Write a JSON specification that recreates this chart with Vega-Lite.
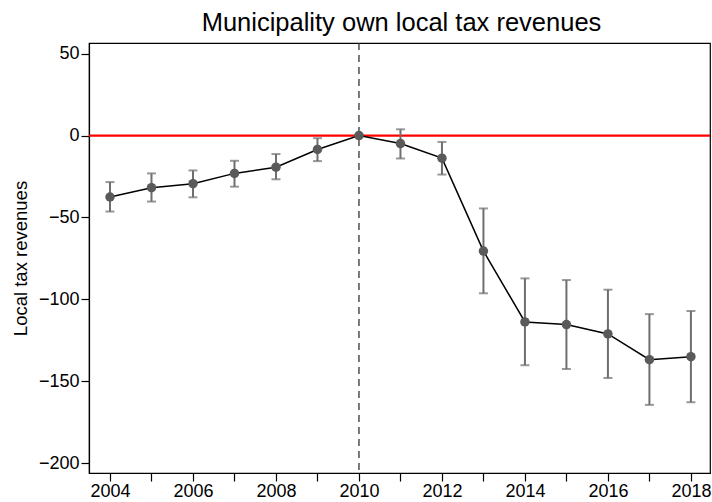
{
  "$schema": "https://vega.github.io/schema/vega-lite/v6.json",
  "width": 621,
  "height": 430,
  "autosize": "none",
  "padding": {"left": 89, "top": 43, "right": 2, "bottom": 29},
  "background": "white",
  "config": {
    "font": "Liberation Sans",
    "view": {"stroke": "black", "strokeWidth": 1.2},
    "axis": {"grid": false, "domainColor": "black", "tickColor": "black", "labelColor": "black", "titleColor": "black", "labelFont": "Liberation Sans", "titleFont": "Liberation Sans", "titleFontWeight": "normal", "labelFontSize": 18, "tickSize": 8, "domainWidth": 1.2, "tickWidth": 1.2}
  },
  "title": {"text": "Municipality own local tax revenues", "fontSize": 25.5, "fontWeight": "normal", "font": "Liberation Sans", "color": "black", "anchor": "middle", "offset": 6, "dx": 2},
  "data": {"values": [
    {"year": 2004, "est": -37.5, "lo": -46.4, "hi": -28.4},
    {"year": 2005, "est": -31.8, "lo": -40.3, "hi": -23.1},
    {"year": 2006, "est": -29.4, "lo": -37.7, "hi": -21.3},
    {"year": 2007, "est": -23.1, "lo": -31.2, "hi": -15.4},
    {"year": 2008, "est": -19.3, "lo": -26.7, "hi": -11.3},
    {"year": 2009, "est": -8.5, "lo": -15.6, "hi": -1.6},
    {"year": 2010, "est": 0, "lo": 0, "hi": 0},
    {"year": 2011, "est": -4.9, "lo": -14.0, "hi": 3.8},
    {"year": 2012, "est": -13.8, "lo": -23.8, "hi": -3.9},
    {"year": 2013, "est": -70.5, "lo": -96.3, "hi": -44.5},
    {"year": 2014, "est": -113.8, "lo": -140.2, "hi": -87.2},
    {"year": 2015, "est": -115.4, "lo": -142.5, "hi": -88.2},
    {"year": 2016, "est": -121.1, "lo": -148.0, "hi": -94.1},
    {"year": 2017, "est": -136.8, "lo": -164.4, "hi": -109.0},
    {"year": 2018, "est": -135.0, "lo": -162.8, "hi": -107.1}
  ]},
  "encoding": {
    "x": {"field": "year", "type": "quantitative", "scale": {"domain": [2003.494, 2018.46], "nice": false, "zero": false},
      "axis": {"title": null, "values": [2004,2005,2006,2007,2008,2009,2010,2011,2012,2013,2014,2015,2016,2017,2018], "format": "d", "labelExpr": "datum.value % 2 == 0 ? datum.label : ''", "labelPadding": 1}}
  },
  "layer": [
    {"data": {"values": [{"z": 0}]}, "mark": {"type": "rule", "color": "#ff0000", "strokeWidth": 2.2}, "encoding": {"x": null, "y": {"field": "z", "type": "quantitative"}}},
    {"data": {"values": [{"t": 2010}]}, "mark": {"type": "rule", "color": "#333333", "strokeWidth": 1.3, "strokeDash": [7, 5]}, "encoding": {"x": {"field": "t", "type": "quantitative"}}},
    {"mark": {"type": "rule", "color": "#6e6e6e", "strokeWidth": 2}, "encoding": {"y": {"field": "lo", "type": "quantitative"}, "y2": {"field": "hi"}}},
    {"mark": {"type": "tick", "orient": "horizontal", "color": "#6e6e6e", "size": 9, "thickness": 2}, "encoding": {"y": {"field": "lo", "type": "quantitative"}}},
    {"mark": {"type": "tick", "orient": "horizontal", "color": "#6e6e6e", "size": 9, "thickness": 2}, "encoding": {"y": {"field": "hi", "type": "quantitative"}}},
    {"mark": {"type": "line", "color": "black", "strokeWidth": 1.5}, "encoding": {"y": {"field": "est", "type": "quantitative"}}},
    {"mark": {"type": "circle", "color": "#5a5a5a", "opacity": 1, "size": 90}, "encoding": {"y": {"field": "est", "type": "quantitative", "scale": {"domain": [-206, 56.5], "nice": false, "zero": false},
      "axis": {"title": "Local tax revenues", "titleFontSize": 18.5, "values": [50, 0, -50, -100, -150, -200], "titlePadding": 8, "labelPadding": 2}}}}
  ],
  "resolve": {"scale": {"y": "shared"}}
}
